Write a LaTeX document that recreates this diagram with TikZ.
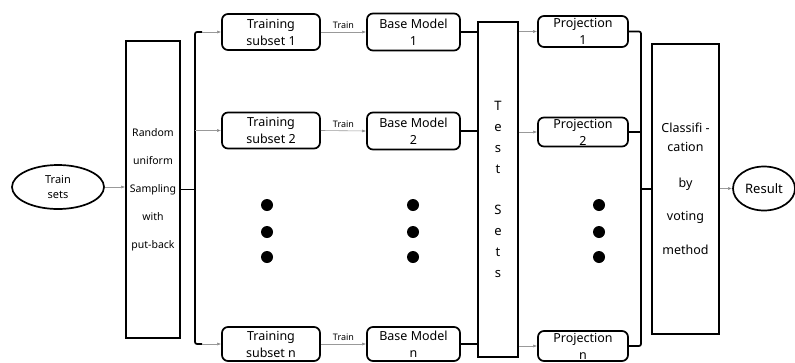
\documentclass[tikz,border=0pt]{standalone}
\usepackage{fontspec}
\setmainfont{Noto Sans}
\usetikzlibrary{arrows.meta,shapes.geometric,calc}
\begin{document}
\begin{tikzpicture}[x=1pt,y=-1pt,
  rbox/.style={draw,line width=1.7pt,rounded corners=6pt,inner sep=0pt,align=center,
    font=\fontsize{12.5}{17}\selectfont},
  tallbox/.style={draw,line width=1.7pt,inner sep=0pt,align=center},
  oval/.style={draw,ellipse,line width=1.7pt,inner sep=0pt,align=center},
  arr/.style={draw=gray!80,line width=0.6pt,-{Latex[length=4pt,width=3pt,fill=black]}},
  bk/.style={draw,line width=1.7pt,rounded corners=2pt},
  dot/.style={circle,fill=black,minimum size=12pt,inner sep=0pt},
  lbl/.style={font=\fontsize{9}{10}\selectfont}]
\useasboundingbox (0,0) rectangle (795,362);
% left input
\node[oval,minimum width=92pt,minimum height=44pt,font=\fontsize{11}{15}\selectfont] (ts) at (58,187) {Train\\sets};
\node[tallbox,minimum width=54pt,minimum height=297pt,font=\fontsize{10.5}{28}\selectfont] (rnd) at (153,189.5) {Random\\uniform\\Sampling\\with\\put-back};
\draw[arr] (ts.east) -- (rnd.west |- ts.east);
% training subsets
\node[rbox,minimum width=98pt,minimum height=36pt] (t1) at (271,32) {Training\\subset 1};
\node[rbox,minimum width=98pt,minimum height=36pt] (t2) at (271,130.5) {Training\\subset 2};
\node[rbox,minimum width=98pt,minimum height=34pt] (tn) at (271,344) {Training\\subset n};
% base models
\node[rbox,minimum width=93pt,minimum height=37pt] (b1) at (413.5,32) {Base Model\\1};
\node[rbox,minimum width=93pt,minimum height=37pt] (b2) at (413.5,131) {Base Model\\2};
\node[rbox,minimum width=93pt,minimum height=34pt] (bn) at (413.5,344) {Base Model\\n};
% test sets
\node[tallbox,minimum width=40pt,minimum height=335pt,font=\fontsize{13}{20.8}\selectfont] (tst) at (498,189.5) {T\\e\\s\\t\\[20.8pt]S\\e\\t\\s};
% projections
\node[rbox,minimum width=90pt,minimum height=31pt] (p1) at (583,31.5) {Projection\\1};
\node[rbox,minimum width=90pt,minimum height=29pt] (p2) at (583,132) {Projection\\2};
\node[rbox,minimum width=90pt,minimum height=30pt] (pn) at (583,346) {Projection\\n};
% classification
\node[tallbox,minimum width=67pt,minimum height=290pt,font=\fontsize{12.5}{19}\selectfont] (cls) at (685.5,189) {Classifi -\\cation\\[17pt]by\\[14pt]voting\\[15pt]method};
\node[oval,minimum width=62pt,minimum height=44pt,font=\fontsize{13}{15}\selectfont] (res) at (764,188.5) {Result};
% dots
\foreach \x/\n in {267/a,413/b,599/c}{
  \node[dot] (d\n1) at (\x,205) {};
  \node[dot] (d\n2) at (\x,232) {};
  \node[dot] (d\n3) at (\x,257) {};
}
% left bracket
\coordinate (lbt) at (202,32);
\coordinate (lbm) at (195,130.5);
\coordinate (lbb) at (202,344);
\draw[bk] (rnd.east) -- (195,189.5);
\draw[bk] (lbt) -- (195,32) -- (195,344) -- (lbb);
\draw[arr] (lbt) -- (t1.west);
\draw[arr] (lbm) -- (t2.west);
\draw[arr] (lbb) -- (tn.west);
% train arrows
\draw[arr] (t1.east) -- node[lbl,above=0pt] {Train} (b1.west);
\draw[arr] (t2.east) -- node[lbl,above=0pt] {Train} (b2.west);
\draw[arr] (tn.east) -- node[lbl,above=0pt] {Train} (bn.west);
% base to test
\draw[bk] (b1.east) -- (tst.west |- b1.east);
\draw[bk] (b2.east) -- (tst.west |- b2.east);
\draw[bk] (bn.east) -- (tst.west |- bn.east);
% test to projection
\draw[arr] (tst.east |- p1.west) -- (p1.west);
\draw[arr] (tst.east |- p2.west) -- (p2.west);
\draw[arr] (tst.east |- pn.west) -- (pn.west);
% right bracket
\draw[bk] (p1.east) -- (641,31.5) -- (641,346) -- (pn.east);
\draw[bk] (p2.east) -- (641,132);
\draw[bk] (641,189) -- (cls.west);
\draw[arr] (cls.east |- res.west) -- (res.west);
\end{tikzpicture}
\end{document}
